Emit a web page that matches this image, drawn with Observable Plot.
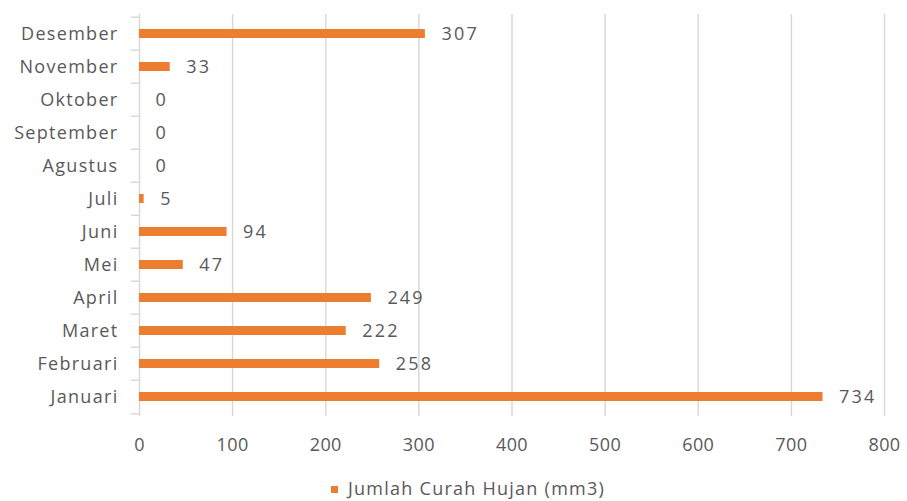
<!DOCTYPE html>
<html>
<head>
<meta charset="utf-8">
<script src="https://cdn.jsdelivr.net/npm/d3@7"></script>
<script src="https://cdn.jsdelivr.net/npm/@observablehq/plot@0.6"></script>
<style>
  html, body { margin: 0; padding: 0; background: #fff; }
  body { width: 907px; height: 501px; overflow: hidden; font-family: "Open Sans", sans-serif; }
  #chart svg { display: block; }
  #chart g[aria-label="y-axis tick label"] text { letter-spacing: 1.3px; }
  #chart g[aria-label="x-axis tick label"] text { letter-spacing: 0.4px; }
  #chart g[aria-label="text"] text { letter-spacing: 2.2px; }
  #legend { position: relative; height: 31px; color: #595959; font-size: 18px; letter-spacing: 1.25px; }
  #legend .item { position: absolute; left: 331px; top: 6px; display: flex; align-items: center; white-space: nowrap; }
  #legend .sw { width: 7px; height: 7px; background: #ED7D31; margin-right: 10px; margin-top: 2px; }
</style>
</head>
<body>
<div id="chart"></div>
<div id="legend"><div class="item"><span class="sw"></span><span id="legend-label"></span></div></div>
<script>
const months = ["Januari", "Februari", "Maret", "April", "Mei", "Juni", "Juli", "Agustus", "September", "Oktober", "November", "Desember"];
const rainfall = [734, 258, 222, 249, 47, 94, 5, 0, 0, 0, 33, 307];
const xTicks = [0, 100, 200, 300, 400, 500, 600, 700, 800];
const seriesName = "Jumlah Curah Hujan (mm3)";

const data = months.map((m, i) => ({month: m, value: rainfall[i]}));

const W = 907, H = 470;
const mTop = 14, mBottom = 54, mLeft = 139, mRight = 23;
const step = (H - mTop - mBottom) / months.length;
const orange = "#ED7D31";
const textGray = "#595959";
const gridGray = "#d9d9d9";
const tickLenUnits = 8 * 800 / (W - mLeft - mRight);

const chart = Plot.plot({
  width: W,
  height: H,
  marginTop: mTop,
  marginBottom: mBottom,
  marginLeft: mLeft,
  marginRight: mRight,
  style: {fontFamily: "'Open Sans', sans-serif", fontSize: "18px", color: textGray, background: "#fff"},
  x: {domain: [0, 800], ticks: xTicks, label: null},
  y: {domain: months.slice().reverse(), paddingInner: 0, paddingOuter: 0, label: null},
  marks: [
    Plot.gridX(xTicks.filter(t => t > 0), {stroke: gridGray, strokeOpacity: 1, strokeWidth: 1.5}),
    Plot.ruleX([0], {stroke: gridGray, strokeWidth: 1.5}),
    // boundary tick marks on the category axis
    Plot.ruleY(months, {y: d => d, x1: -tickLenUnits, x2: 0, dy: -step / 2, stroke: gridGray, strokeWidth: 1.5}),
    Plot.ruleY(months.slice(0, 1), {y: d => d, x1: -tickLenUnits, x2: 0, dy: step / 2, stroke: gridGray, strokeWidth: 1.5}),
    Plot.axisX({ticks: xTicks, tickSize: 0, tickPadding: 22, fontSize: 18, fill: textGray}),
    Plot.axisY({tickSize: 0, tickPadding: 21, fontSize: 18, fill: textGray}),
    Plot.barX(data, {x: "value", y: "month", fill: orange, insetTop: 12, insetBottom: 12}),
    Plot.text(data, {x: "value", y: "month", text: d => String(d.value), textAnchor: "start", dx: 16, fontSize: 18, fill: textGray})
  ]
});
document.getElementById("chart").appendChild(chart);
document.getElementById("legend-label").textContent = seriesName;
</script>
</body>
</html>
